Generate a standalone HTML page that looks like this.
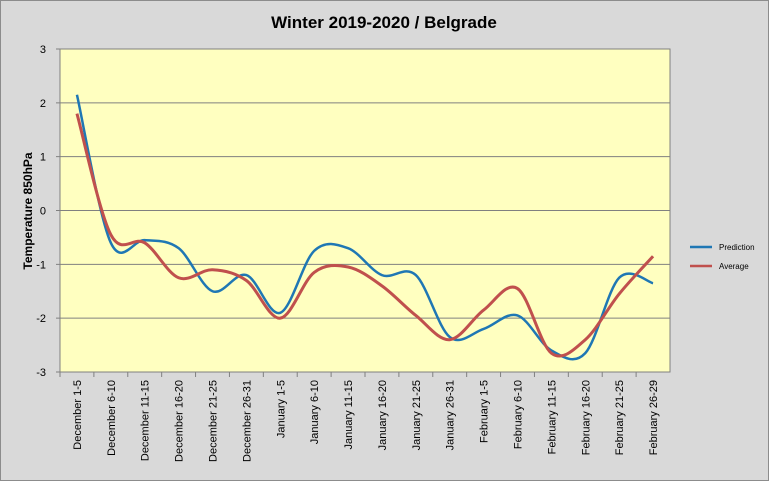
<!DOCTYPE html>
<html><head><meta charset="utf-8"><style>
body{margin:0;background:#fff}
svg{display:block;font-family:"Liberation Sans",sans-serif}
</style></head><body>
<svg id="chart" width="769" height="481" viewBox="0 0 769 481">
<rect x="0.5" y="0.5" width="768" height="480" fill="#d9d9d9" stroke="#8c8c8c"/>
<text x="384" y="28" text-anchor="middle" font-size="17" font-weight="bold" fill="#000">Winter 2019-2020 / Belgrade</text>
<text transform="translate(32,211) rotate(-90)" text-anchor="middle" font-size="12" font-weight="bold">Temperature 850hPa</text>
<g id="plot"></g>
<g>
<line x1="690" y1="247" x2="712" y2="247" stroke="#1f77b4" stroke-width="2.5"/>
<text x="719" y="250" font-size="8">Prediction</text>
<line x1="690" y1="266" x2="712" y2="266" stroke="#c0504d" stroke-width="2.5"/>
<text x="719" y="269" font-size="8">Average</text>
</g>
</svg>
<script>
const categories=["December 1-5","December 6-10","December 11-15","December 16-20","December 21-25","December 26-31","January 1-5","January 6-10","January 11-15","January 16-20","January 21-25","January 26-31","February 1-5","February 6-10","February 11-15","February 16-20","February 21-25","February 26-29"];
const prediction=[2.15,-0.6,-0.55,-0.7,-1.5,-1.2,-1.9,-0.75,-0.7,-1.2,-1.2,-2.35,-2.2,-1.95,-2.6,-2.65,-1.25,-1.35];
const average=[1.8,-0.45,-0.6,-1.25,-1.1,-1.3,-2.0,-1.15,-1.05,-1.4,-1.95,-2.4,-1.85,-1.45,-2.65,-2.4,-1.55,-0.85];
const yTicks=[3,2,1,0,-1,-2,-3];
const NS="http://www.w3.org/2000/svg";
const X0=60,X1=670,Y0=49,Y1=372,YMIN=-3,YMAX=3;
const bw=(X1-X0)/categories.length;
function xs(i){return X0+bw*(i+0.5);}
function ys(v){return Y1-(v-YMIN)/(YMAX-YMIN)*(Y1-Y0);}
const g=document.getElementById('plot');
function mk(t,a){const e=document.createElementNS(NS,t);for(const k in a)e.setAttribute(k,a[k]);g.appendChild(e);return e;}
let r=mk('rect',{x:X0,y:Y0,width:X1-X0,height:Y1-Y0,fill:'#ffffc0',stroke:'#808080'});


yTicks.forEach(v=>{
 const y=ys(v);
 let l=mk('line',{x1:X0-4,x2:X1,y1:y,y2:y,stroke:'#808080','stroke-width':1});
 
 
 let t=mk('text',{x:46,y:y+4,'text-anchor':'end','font-size':11});
 t.textContent=v;
 
 
});
categories.forEach((c,i)=>{
 const x=X0+bw*i;
 let tk=mk('line',{x1:x,x2:x,y1:Y1,y2:Y1+5,stroke:'#808080'});
 
 
 let t=mk('text',{transform:`translate(${xs(i)+4},380) rotate(-90)`,'text-anchor':'end','font-size':11});
 t.textContent=c;
 
 
});
function smooth(vals){
 const p=vals.map((v,i)=>[xs(i),ys(v)]);
 let d=`M${p[0][0]},${p[0][1]}`;
 for(let i=0;i<p.length-1;i++){
  const a=p[i-1]||p[i],b=p[i],c=p[i+1],e=p[i+2]||c,k=1/6;
  d+=` C${b[0]+(c[0]-a[0])*k},${b[1]+(c[1]-a[1])*k} ${c[0]-(e[0]-b[0])*k},${c[1]-(e[1]-b[1])*k} ${c[0]},${c[1]}`;
 }
 return d;
}
let p1=mk('path',{d:smooth(prediction),fill:'none',stroke:'#1f77b4','stroke-width':2.5});


let p2=mk('path',{d:smooth(average),fill:'none',stroke:'#c0504d','stroke-width':3});


</script>
</body></html>
